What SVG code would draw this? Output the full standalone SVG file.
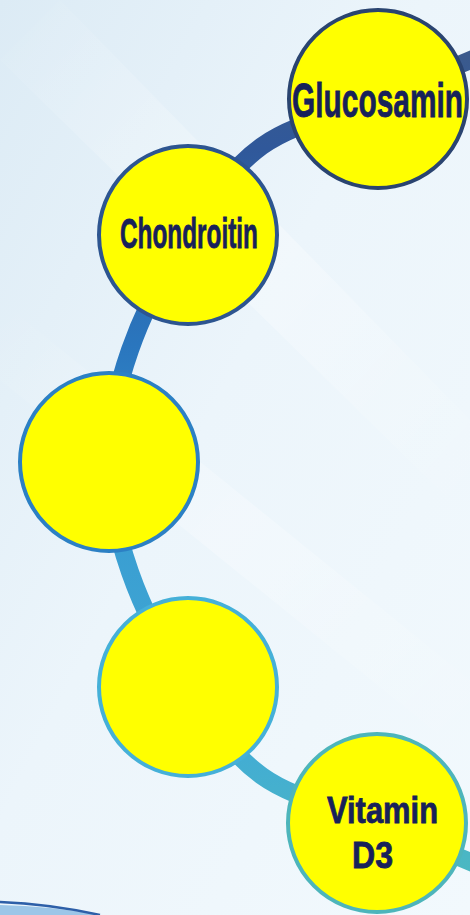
<svg xmlns="http://www.w3.org/2000/svg" width="470" height="915" viewBox="0 0 470 915">
  <defs>
    <linearGradient id="bg" x1="0" y1="0" x2="1" y2="1">
      <stop offset="0" stop-color="#dcebf5"/>
      <stop offset="0.45" stop-color="#ecf5fb"/>
      <stop offset="1" stop-color="#f2f9fd"/>
    </linearGradient>
    <linearGradient id="band" gradientUnits="userSpaceOnUse" x1="0" y1="50" x2="0" y2="870">
      <stop offset="0" stop-color="#3b5a8c"/>
      <stop offset="0.12" stop-color="#30589a"/>
      <stop offset="0.36" stop-color="#2a76be"/>
      <stop offset="0.6" stop-color="#3a9ed2"/>
      <stop offset="0.85" stop-color="#42acd4"/>
      <stop offset="1" stop-color="#4bb8c2"/>
    </linearGradient>
    <linearGradient id="ray" x1="0" y1="0" x2="1" y2="1">
      <stop offset="0" stop-color="#ffffff" stop-opacity="0"/>
      <stop offset="0.5" stop-color="#ffffff" stop-opacity="0.55"/>
      <stop offset="1" stop-color="#ffffff" stop-opacity="0"/>
    </linearGradient>
  </defs>
  <style>
    .node { fill: #ffff00; stroke-width: 4; }
    .label { font-family: "Liberation Sans", Arial, sans-serif; font-weight: bold; fill: #17215a; stroke: #17215a; stroke-width: 0.8; }
    .conn { fill: none; stroke: url(#band); stroke-width: 18; }
  </style>

  <!-- background -->
  <rect x="0" y="0" width="470" height="915" fill="url(#bg)"/>
  <polygon points="0,60 60,0 470,420 470,520" fill="url(#ray)" opacity="0.6"/>
  <polygon points="0,300 0,380 470,760 470,680" fill="url(#ray)" opacity="0.5"/>
  <path d="M0,915 L0,905 Q50,906 100,915 Z" fill="#9cc6e8"/>
  <path d="M0,902 Q50,904 100,915" fill="none" stroke="#2d5fa8" stroke-width="2.5"/>

  <g id="connectors">
    <path class="conn" d="M490,52 C452.3,67.7 415,83.3 377,99 C339,114.7 293.5,123.3 262,146 C230.5,168.7 210,201 188,235 C166,269 143.2,312.3 130,350 C116.8,387.7 109,424 109,461 C109,498 116.8,534.3 130,572 C143.2,609.7 166,653 188,687 C210,721 230.5,753.3 262,776 C293.5,798.7 339,807.3 377,823 C415,838.7 452.3,854.3 490,870"/>
  </g>

  <g id="node-glucosamin">
    <circle class="node" cx="378" cy="99" r="89" stroke="#2a4470"/>
    <text class="label" x="292" y="117" font-size="49" textLength="171" lengthAdjust="spacingAndGlyphs">Glucosamin</text>
  </g>

  <g id="node-chondroitin">
    <circle class="node" cx="188" cy="235" r="89" stroke="#2d5590"/>
    <text class="label" x="120" y="248" font-size="42" textLength="138" lengthAdjust="spacingAndGlyphs">Chondroitin</text>
  </g>

  <g id="node-3">
    <circle class="node" cx="109" cy="462" r="89" stroke="#2c80c4"/>
  </g>

  <g id="node-4">
    <circle class="node" cx="188" cy="687" r="89" stroke="#45b0d8"/>
  </g>

  <g id="node-vitamin-d3">
    <circle class="node" cx="377" cy="823" r="89" stroke="#4db5bb"/>
    <text class="label" x="327" y="823" font-size="37" textLength="111" lengthAdjust="spacingAndGlyphs">Vitamin</text>
    <text class="label" x="352" y="868" font-size="36" textLength="41" lengthAdjust="spacingAndGlyphs">D3</text>
  </g>
</svg>
